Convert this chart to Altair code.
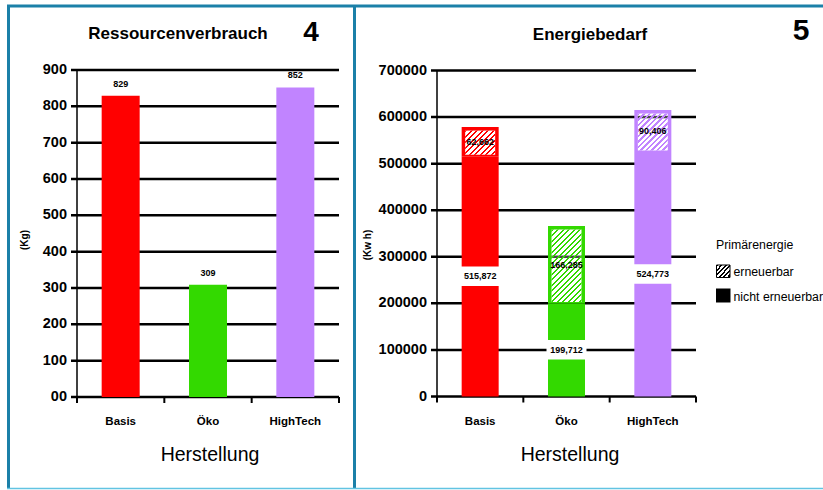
import altair as alt
import pandas as pd

# ---- data -------------------------------------------------------------
kategorien = ["Basis", "Öko", "HighTech"]
farben = ["#ff0000", "#33d900", "#c184ff"]

# Ressourcenverbrauch in kg
ressourcen_kg = [829, 309, 852]
kg_ticks = [0, 100, 200, 300, 400, 500, 600, 700, 800, 900]
kg_tick_labels = ["00", "100", "200", "300", "400", "500", "600", "700", "800", "900"]

# Energiebedarf in kWh, split by primary energy source
energie_nicht_erneuerbar = [515872, 199712, 524773]
energie_erneuerbar = [62662, 166285, 90406]
kwh_ticks = [0, 100000, 200000, 300000, 400000, 500000, 600000, 700000]
kwh_tick_labels = ["0", "100000", "200000", "300000", "400000", "500000", "600000", "700000"]

titel_links = ["Ressourcenverbrauch"]
titel_rechts = ["Energiebedarf"]
nummer_links = ["4"]
nummer_rechts = ["5"]
x_titel = ["Herstellung"]
y_titel_links = ["(Kg)"]
y_titel_rechts = ["(Kw h)"]
legende_titel = ["Primärenergie"]
legende_erneuerbar = ["erneuerbar"]
legende_nicht = ["nicht erneuerbar"]

# ---- layout / style ---------------------------------------------------
W, H = 823, 490
FONT = "Liberation Sans"
RAHMEN = "#1b80a8"
LX, LY = [77, 339], [397, 70]          # left plot area (px)
RX, RY = [437, 696], [396.5, 70.5]     # right plot area (px)
BAR_W = 37
PPU_R = (RY[0] - RY[1]) / kwh_ticks[-1]
INSET_X, INSET_TOP, INSET_BOT = 3.5, 3.5, 1.5

one_row = pd.DataFrame({"n": [1]})


def schraffur(farbe, w, h, periode=5.5, anteil=0.4, luecke="rgba(255,255,255,0)"):
    """Diagonal '/' hatching as a hard-stop linear gradient over a w x h box."""
    k = (w + h) / (w * w + h * h)
    n = (w + h) / periode
    stops = []
    i = 0
    while i < n:
        a = i / n
        b = min((i + anteil) / n, 1.0)
        c = min((i + 1) / n, 1.0)
        stops += [
            alt.GradientStop(color=farbe, offset=a),
            alt.GradientStop(color=farbe, offset=b),
            alt.GradientStop(color=luecke, offset=b),
            alt.GradientStop(color=luecke, offset=c),
        ]
        i += 1
    return alt.LinearGradient(gradient="linear", stops=stops,
                              x1=0, y1=0, x2=w * k, y2=h * k)


def text_at(werte, x, y, **kw):
    return alt.Chart(pd.DataFrame({"t": werte})).mark_text(color="black", **kw).encode(
        x=alt.value(x), y=alt.value(y), text="t:N")


def band_scale(rng):
    return alt.Scale(domain=kategorien, range=rng, paddingInner=0, paddingOuter=0)


def x_kat(rng, **kw):
    return alt.X("kat:N", sort=kategorien, scale=band_scale(rng), axis=None, **kw)


def achsen(xr, yr, y_scale, ticks, tick_labels, y_titel, y_titel_pos, x_titel_x):
    """Value axis, category axis with boundary ticks, and both axis titles."""
    df_ticks = pd.DataFrame({"v": ticks, "lab": tick_labels})
    y_enc = alt.Y("v:Q", scale=y_scale, axis=None)
    teile = [
        # horizontal gridlines (including the tick stubs on the value axis)
        alt.Chart(df_ticks).mark_rule(color="black", strokeWidth=2.5).encode(
            y=y_enc, x=alt.value(xr[0] - 6), x2=alt.value(xr[1])),
        # vertical axis line
        alt.Chart(one_row).mark_rule(color="black", strokeWidth=1.5).encode(
            x=alt.value(xr[0]), y=alt.Y(datum=ticks[0], scale=y_scale, axis=None),
            y2=alt.Y2(datum=ticks[-1])),
        # value labels
        alt.Chart(df_ticks).mark_text(align="right", baseline="middle", fontSize=14.5,
                                      fontWeight="bold", color="black").encode(
            y=y_enc, x=alt.value(xr[0] - 10), text="lab:N"),
        # category-boundary ticks under the baseline
        alt.Chart(pd.DataFrame({"kat": kategorien})).mark_rule(color="black", strokeWidth=2).encode(
            x=x_kat(xr, bandPosition=0), y=alt.value(yr[0]), y2=alt.value(yr[0] + 6)),
        alt.Chart(pd.DataFrame({"kat": kategorien[-1:]})).mark_rule(color="black", strokeWidth=2).encode(
            x=x_kat(xr, bandPosition=1), y=alt.value(yr[0]), y2=alt.value(yr[0] + 6)),
        # category labels
        alt.Chart(pd.DataFrame({"kat": kategorien})).mark_text(
            baseline="middle", fontSize=11.5, fontWeight="bold", color="black").encode(
            x=x_kat(xr), y=alt.value(yr[0] + 25), text="kat:N"),
        text_at(x_titel, x_titel_x, yr[0] + 58, fontSize=19.5, baseline="middle"),
        text_at(y_titel, y_titel_pos[0], y_titel_pos[1], fontSize=10, fontWeight="bold",
                angle=270, baseline="middle"),
    ]
    return teile


farbe = alt.Color("kat:N", scale=alt.Scale(domain=kategorien, range=farben), legend=None)

# ---- left panel: Ressourcenverbrauch ------------------------------------
df_kg = pd.DataFrame({"kat": kategorien, "kg": ressourcen_kg})
y_kg_scale = alt.Scale(domain=[kg_ticks[0], kg_ticks[-1]], range=LY, nice=False, zero=True)

bars_l = alt.Chart(df_kg).mark_bar(size=38).encode(
    x=x_kat(LX),
    y=alt.Y("kg:Q", scale=y_kg_scale, stack=None, axis=None),
    color=farbe,
)
text_l = alt.Chart(df_kg).mark_text(dy=-12, fontSize=9, fontWeight="bold", color="black").encode(
    x=x_kat(LX),
    y=alt.Y("kg:Q", scale=y_kg_scale, axis=None),
    text=alt.Text("kg:Q", format="d"),
)
links = alt.layer(
    *achsen(LX, LY, y_kg_scale, kg_ticks, kg_tick_labels, y_titel_links, (25, 240), 210),
    bars_l, text_l,
)

# ---- right panel: Energiebedarf -----------------------------------------
df_en = pd.DataFrame({"kat": kategorien,
                      "ne": energie_nicht_erneuerbar,
                      "er": energie_erneuerbar})
df_en["ges"] = df_en["ne"] + df_en["er"]
df_en["m_ne"] = df_en["ne"] / 2
df_en["m_er"] = df_en["ne"] + df_en["er"] / 2

y_kwh_scale = alt.Scale(domain=[kwh_ticks[0], kwh_ticks[-1]], range=RY, nice=False, zero=True)


def y_r(feld):
    return alt.Y(feld, scale=y_kwh_scale, axis=None, stack=None)


bars_ne = alt.Chart(df_en).mark_bar(size=BAR_W).encode(
    x=x_kat(RX), y=y_r("ne:Q"), color=farbe,
)
bars_er = alt.Chart(df_en).mark_bar(size=BAR_W).encode(
    x=x_kat(RX), y=y_r("ges:Q"), y2="ne:Q", color=farbe,
)

# hatched renewable boxes (white ground, gridlines showing through, diagonal hatch)
innen_w = BAR_W - 2 * INSET_X
innen_grid = []
for kat, ne, er in zip(kategorien, energie_nicht_erneuerbar, energie_erneuerbar):
    for v in kwh_ticks:
        if ne + INSET_BOT / PPU_R < v < ne + er - INSET_TOP / PPU_R:
            innen_grid.append({"kat": kat, "v": v})
df_innen_grid = pd.DataFrame(innen_grid, columns=["kat", "v"])

hatch_layers = [
    alt.Chart(df_en).mark_bar(size=innen_w, color="white",
                              yOffset=INSET_TOP, y2Offset=-INSET_BOT).encode(
        x=x_kat(RX), y=y_r("ges:Q"), y2="ne:Q"),
    alt.Chart(df_innen_grid).mark_tick(size=innen_w, thickness=2.5, color="black").encode(
        x=x_kat(RX), y=y_r("v:Q")),
]
for kat, col, er in zip(kategorien, farben, energie_erneuerbar):
    h = er * PPU_R - INSET_TOP - INSET_BOT
    hatch_layers.append(
        alt.Chart(df_en[df_en["kat"] == kat]).mark_bar(
            size=innen_w, fill=schraffur(col, innen_w, h),
            yOffset=INSET_TOP, y2Offset=-INSET_BOT,
        ).encode(x=x_kat(RX), y=y_r("ges:Q"), y2="ne:Q")
    )

label_box = alt.Chart(df_en).mark_bar(size=BAR_W + 3, color="white",
                                      yOffset=-10, y2Offset=9.5).encode(
    x=x_kat(RX), y=y_r("m_ne:Q"), y2="m_ne:Q",
)
text_ne = alt.Chart(df_en).mark_text(fontSize=9, fontWeight="bold", color="black",
                                     baseline="middle").encode(
    x=x_kat(RX), y=y_r("m_ne:Q"), text=alt.Text("ne:Q", format=","),
)
text_er = alt.Chart(df_en).mark_text(fontSize=9, fontWeight="bold", color="black",
                                     baseline="middle").encode(
    x=x_kat(RX), y=y_r("m_er:Q"), text=alt.Text("er:Q", format=","),
)
rechts = alt.layer(
    *achsen(RX, RY, y_kwh_scale, kwh_ticks, kwh_tick_labels, y_titel_rechts, (368, 245), 570),
    bars_ne, bars_er, *hatch_layers, label_box, text_ne, text_er,
)

# ---- titles, panel numbers, legend, frame --------------------------------
titel = [
    text_at(titel_links, 178, 34, fontSize=17, fontWeight="bold"),
    text_at(nummer_links, 311, 33, fontSize=28, fontWeight="bold"),
    text_at(titel_rechts, 590, 35, fontSize=17, fontWeight="bold"),
    text_at(nummer_rechts, 801, 31, fontSize=30, fontWeight="bold"),
]

legende = [
    text_at(legende_titel, 716, 245, fontSize=12.3, align="left", baseline="middle"),
    alt.Chart(one_row).mark_rect(fill=schraffur("black", 14, 12, periode=4.5, anteil=0.45,
                                                luecke="white"),
                                 stroke="black", strokeWidth=1).encode(
        x=alt.value(716.5), x2=alt.value(730), y=alt.value(265), y2=alt.value(277.5)),
    text_at(legende_erneuerbar, 733.5, 271.5, fontSize=12.3, align="left", baseline="middle"),
    alt.Chart(one_row).mark_rect(fill="black").encode(
        x=alt.value(716), x2=alt.value(730.5), y=alt.value(288.5), y2=alt.value(302.5)),
    text_at(legende_nicht, 733.5, 297, fontSize=12.3, align="left", baseline="middle"),
]


def linie(x, x2, y, y2, farbe_, breite):
    return alt.Chart(one_row).mark_rule(color=farbe_, strokeWidth=breite).encode(
        x=alt.value(x), x2=alt.value(x2), y=alt.value(y), y2=alt.value(y2))


rahmen = [
    linie(7, W, 6, 6, RAHMEN, 3),
    linie(8.5, 8.5, 5, 489, RAHMEN, 3),
    linie(354.5, 354.5, 5, 489, RAHMEN, 3),
    linie(7, W, 488.5, 488.5, "#62c4e2", 1.5),
]

chart = (
    alt.layer(*rahmen, links, rechts, *titel, *legende)
    .resolve_scale(x="independent", y="independent", color="shared")
    .properties(width=W, height=H, padding=0, autosize=alt.AutoSizeParams(type="none"),
                background="white")
    .configure(font=FONT)
    .configure_view(stroke=None)
)

chart.save("out.html", embed_options={"renderer": "svg", "actions": False})
